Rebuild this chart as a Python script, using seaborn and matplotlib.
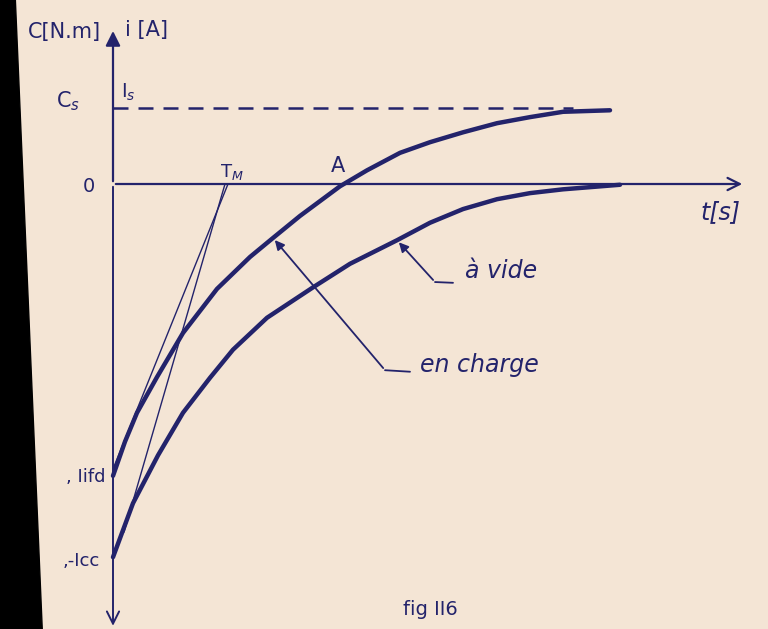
import numpy as np
import pandas as pd
import matplotlib
matplotlib.use("Agg")
import matplotlib.pyplot as plt
from matplotlib.patches import Polygon
import seaborn as sns

t_charge = [0.00, 0.12, 0.24, 0.44, 0.70, 1.04, 1.37, 1.60, 1.87, 2.27, 2.54, 2.87, 3.17,
            3.50, 3.84, 4.17, 4.50, 4.97]
y_charge = [-3.84, -3.39, -3.01, -2.54, -1.96, -1.38, -0.96, -0.71, -0.42, -0.03, 0.18,
            0.41, 0.55, 0.68, 0.80, 0.88, 0.95, 0.97]

t_vide = [0.00, 0.20, 0.45, 0.70, 0.97, 1.20, 1.54, 2.00, 2.37, 2.84, 3.17, 3.50, 3.84, 4.17,
          4.50, 5.07]
y_vide = [-4.91, -4.20, -3.57, -3.01, -2.55, -2.18, -1.76, -1.36, -1.05, -0.74, -0.51, -0.33,
          -0.20, -0.12, -0.07, -0.01]

# tangentes à l'origine -> TM
tan1_t = [1.15, 0.0]
tan1_y = [0.0, -3.75]
tan2_t = [1.12, 0.11]
tan2_y = [0.0, -4.58]

Cs = 1.0
Iifd = -3.84
Icc = -4.91
t_dash_end = 4.6
t_axis_end = 6.32
y_top, y_bottom = 2.05, -5.85

ink = "#23236b"
paper = "#f4e5d5"

sns.set_theme(style="white")
plt.rcParams["font.family"] = ["DejaVu Sans"]

fig = plt.figure(figsize=(7.68, 6.29), dpi=100, facecolor=paper)
ax = fig.add_axes([0, 0, 1, 1])
ax.set_facecolor(paper)
ax.set_xlim(-1.13, 6.55)
ax.set_ylim(-5.855, 2.421)
ax.axis("off")

# bord noir du scan
fig.patches.append(Polygon([[0, 1], [0.02, 1], [0.055, 0], [0, 0]], closed=True,
                           transform=fig.transFigure, color="black", zorder=10))

# axes
ax.annotate("", xy=(t_axis_end, 0), xytext=(0, 0),
            arrowprops=dict(arrowstyle="->", color=ink, lw=1.6, mutation_scale=22))
ax.annotate("", xy=(0, y_top), xytext=(0, 0),
            arrowprops=dict(arrowstyle="-|>", color=ink, lw=1.6, mutation_scale=22))
ax.annotate("", xy=(0, y_bottom), xytext=(0, 0),
            arrowprops=dict(arrowstyle="->", color=ink, lw=1.4, mutation_scale=22))

# asymptote Cs / Is
ax.plot([0, t_dash_end], [Cs, Cs], color=ink, lw=1.8, ls=(0, (6, 4)))

# courbes
df_c = pd.DataFrame({"t": t_charge, "y": y_charge})
df_v = pd.DataFrame({"t": t_vide, "y": y_vide})
sns.lineplot(data=df_c, x="t", y="y", ax=ax, color=ink, lw=3.2, sort=False,
             solid_joinstyle="round", solid_capstyle="round")
sns.lineplot(data=df_v, x="t", y="y", ax=ax, color=ink, lw=3.2, sort=False,
             solid_joinstyle="round", solid_capstyle="round")
ax.plot(tan1_t, tan1_y, color=ink, lw=1.0)
ax.plot(tan2_t, tan2_y, color=ink, lw=1.0)

# flèches de repérage
ax.annotate("", xy=(2.84, -0.74), xytext=(3.22, -1.29),
            arrowprops=dict(arrowstyle="-|>", color=ink, lw=1.3, mutation_scale=14))
ax.plot([3.22, 3.40], [-1.29, -1.30], color=ink, lw=1.3)
ax.annotate("", xy=(1.60, -0.71), xytext=(2.72, -2.45),
            arrowprops=dict(arrowstyle="-|>", color=ink, lw=1.3, mutation_scale=14))
ax.plot([2.72, 2.97], [-2.45, -2.47], color=ink, lw=1.3)

# textes
kw = dict(color=ink)
ax.text(3.52, -1.15, "à vide", fontsize=17, style="italic", va="center", **kw)
ax.text(3.07, -2.38, "en charge", fontsize=17, style="italic", va="center", **kw)
ax.text(5.87, -0.37, "t[s]", fontsize=17, style="italic", va="center", **kw)
ax.text(-0.12, 2.0, "C[N.m]", fontsize=15, ha="right", va="center", **kw)
ax.text(0.12, 2.03, "i [A]", fontsize=15, ha="left", va="center", **kw)
ax.text(-0.45, 1.09, "C$_s$", fontsize=15, ha="center", va="center", **kw)
ax.text(0.08, 1.2, "I$_s$", fontsize=14, ha="left", va="center", **kw)
ax.text(-0.24, -0.03, "0", fontsize=14, ha="center", va="center", **kw)
ax.text(1.19, 0.16, "T$_M$", fontsize=13, ha="center", va="center", **kw)
ax.text(2.25, 0.24, "A", fontsize=15, ha="center", va="center", **kw)
ax.text(-0.08, Iifd - 0.02, ", Iifd", fontsize=13, ha="right", va="center", **kw)
ax.text(-0.13, Icc - 0.05, ",-Icc", fontsize=13, ha="right", va="center", **kw)
ax.text(3.17, -5.6, "fig II6", fontsize=14, ha="center", va="center", **kw)

fig.savefig("out.png", dpi=100, facecolor=paper)
